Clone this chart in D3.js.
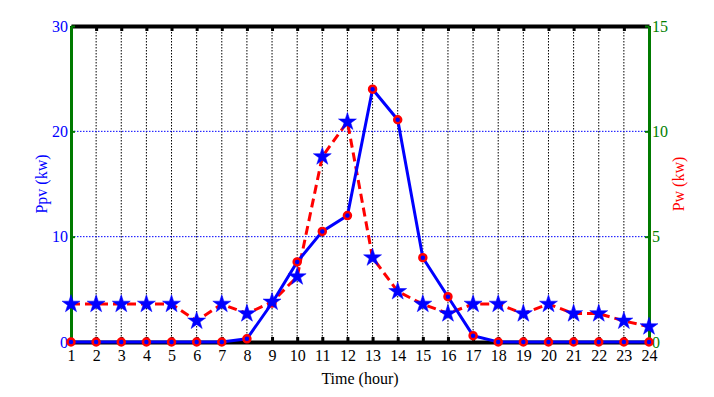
<!DOCTYPE html>
<html>
<head>
<meta charset="utf-8">
<script src="https://cdn.jsdelivr.net/npm/d3@7"></script>
<style>
  body { margin: 0; background: #fff; }
</style>
</head>
<body>
<div id="chart"></div>
<script>
// hours of the day
const hours = d3.range(1, 25);
// PV power (kW), left axis
const ppv = [0, 0, 0, 0, 0, 0, 0, 0.3, 3.7, 7.6, 10.5, 12, 24, 21.1, 8, 4.3, 0.6, 0, 0, 0, 0, 0, 0, 0];
// wind power (kW), right axis
const pw = [1.8, 1.8, 1.8, 1.8, 1.8, 1.0, 1.8, 1.35, 1.9, 3.1, 8.8, 10.45, 4.0, 2.4, 1.8, 1.35, 1.8, 1.8, 1.35, 1.8, 1.35, 1.35, 1.0, 0.73];
const leftTicks = [0, 10, 20, 30];
const rightTicks = [0, 5, 10, 15];

const W = 714, H = 397;
const margin = {top: 26, right: 65, bottom: 55, left: 71};
const FONT = "'Liberation Serif', 'Times New Roman', serif";

const svg = d3.select("#chart").append("svg")
    .attr("width", W)
    .attr("height", H)
    .attr("font-family", FONT);

const x = d3.scaleLinear().domain([1, 24]).range([margin.left, W - margin.right]);
const yL = d3.scaleLinear().domain([0, 30]).range([H - margin.bottom, margin.top]);
const yR = d3.scaleLinear().domain([0, 15]).range([H - margin.bottom, margin.top]);

const x0 = x(1), x1 = x(24), yb = yL(0), yt = yL(30);

// vertical dotted grid
svg.append("g")
  .selectAll("line")
  .data(hours.slice(1, -1))
  .join("line")
    .attr("x1", d => x(d)).attr("x2", d => x(d))
    .attr("y1", yt).attr("y2", yb)
    .attr("stroke", "#000")
    .attr("stroke-width", 1)
    .attr("stroke-dasharray", "1.5,1.5");

// horizontal dotted grid (blue)
svg.append("g")
  .selectAll("line")
  .data([10, 20])
  .join("line")
    .attr("x1", x0).attr("x2", x1)
    .attr("y1", d => yL(d)).attr("y2", d => yL(d))
    .attr("stroke", "#0000ff")
    .attr("stroke-width", 1)
    .attr("stroke-dasharray", "1.5,1.5");

// bottom axis
const gx = svg.append("g")
    .attr("transform", `translate(0,${yb})`)
    .call(d3.axisBottom(x).tickValues(hours).tickFormat(d3.format("d")).tickSize(-5).tickPadding(8).tickSizeOuter(0))
    .attr("font-family", FONT);
gx.select(".domain").attr("stroke", "#000").attr("stroke-width", 4);
gx.selectAll(".tick line").attr("stroke", "#000").attr("stroke-width", 3);
gx.selectAll("text").attr("font-size", 16).attr("fill", "#000");

// top axis (ticks only)
const gt = svg.append("g")
    .attr("transform", `translate(0,${yt})`)
    .call(d3.axisTop(x).tickValues(hours).tickFormat("").tickSize(-5).tickSizeOuter(0));
gt.select(".domain").attr("stroke", "#000").attr("stroke-width", 4);
gt.selectAll(".tick line").attr("stroke", "#000").attr("stroke-width", 3);

// left axis
const gl = svg.append("g")
    .attr("transform", `translate(${x0},0)`)
    .call(d3.axisLeft(yL).tickValues(leftTicks).tickSize(-4).tickPadding(3).tickSizeOuter(0))
    .attr("font-family", FONT);
gl.select(".domain").attr("stroke", "#007a00").attr("stroke-width", 3);
gl.selectAll(".tick line").attr("stroke", "#007a00").attr("stroke-width", 2);
gl.selectAll("text").attr("font-size", 16).attr("fill", "#0000ff");

// right axis
const gr = svg.append("g")
    .attr("transform", `translate(${x1},0)`)
    .call(d3.axisRight(yR).tickValues(rightTicks).tickSize(-4).tickPadding(3).tickSizeOuter(0))
    .attr("font-family", FONT);
gr.select(".domain").attr("stroke", "#007a00").attr("stroke-width", 3);
gr.selectAll(".tick line").attr("stroke", "#007a00").attr("stroke-width", 2);
gr.selectAll("text").attr("font-size", 16).attr("fill", "#008000");

// axis titles
svg.append("text")
    .attr("transform", `translate(47,${(yt + yb) / 2}) rotate(-90)`)
    .attr("text-anchor", "middle")
    .attr("font-size", 16)
    .attr("fill", "#0000ff")
    .text("Ppv (kw)");

svg.append("text")
    .attr("transform", `translate(684,${(yt + yb) / 2}) rotate(-90)`)
    .attr("text-anchor", "middle")
    .attr("font-size", 16)
    .attr("fill", "#ff0000")
    .text("Pw (kw)");

svg.append("text")
    .attr("x", (x0 + x1) / 2)
    .attr("y", 384)
    .attr("text-anchor", "middle")
    .attr("font-size", 16)
    .attr("fill", "#000")
    .text("Time (hour)");

// Pw: red dashed line with blue stars
const pwData = hours.map((h, i) => ({h, v: pw[i]}));
svg.append("path")
    .datum(pwData)
    .attr("fill", "none")
    .attr("stroke", "#ff0000")
    .attr("stroke-width", 3)
    .attr("stroke-dasharray", "9,5")
    .attr("d", d3.line().x(d => x(d.h)).y(d => yR(d.v)));

// Ppv: blue solid line with red circles
const ppvData = hours.map((h, i) => ({h, v: ppv[i]}));
svg.append("path")
    .datum(ppvData)
    .attr("fill", "none")
    .attr("stroke", "#0000ff")
    .attr("stroke-width", 3)
    .attr("d", d3.line().x(d => x(d.h)).y(d => yL(d.v)));

svg.append("g")
  .selectAll("circle")
  .data(ppvData)
  .join("circle")
    .attr("cx", d => x(d.h))
    .attr("cy", d => yL(d.v))
    .attr("r", 3.5)
    .attr("fill", "#0000ff")
    .attr("stroke", "#ff0000")
    .attr("stroke-width", 2.5);

svg.append("g")
  .selectAll("path")
  .data(pwData)
  .join("path")
    .attr("transform", d => `translate(${x(d.h)},${yR(d.v)})`)
    .attr("d", d3.symbol(d3.symbolStar, 100))
    .attr("fill", "#0000ff")
    .attr("stroke", "#0000ff")
    .attr("stroke-width", 0.5);
</script>
</body>
</html>
